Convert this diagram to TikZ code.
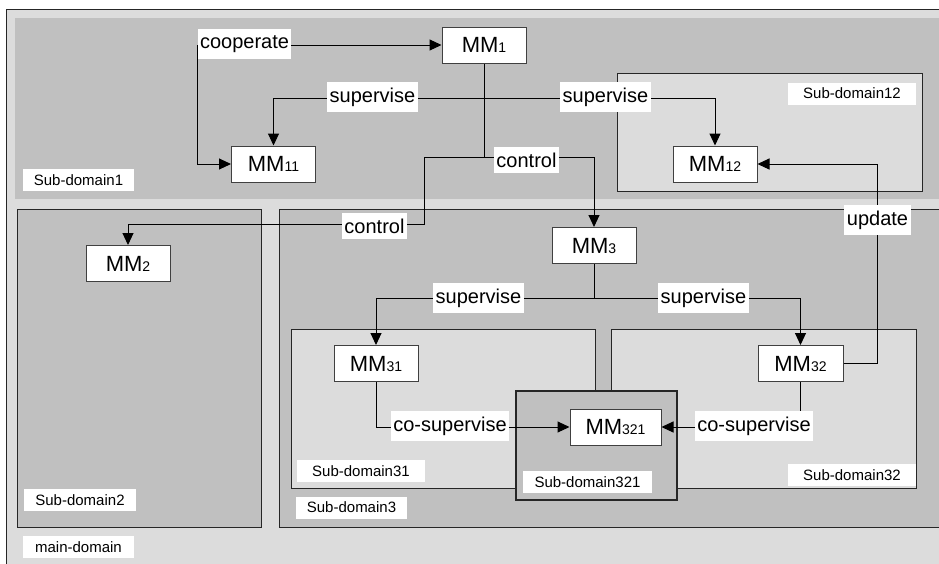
\documentclass[tikz,border=0pt]{standalone}
\usepackage{fontspec}
\setmainfont{Liberation Sans}
\usetikzlibrary{arrows.meta}
\definecolor{dompale}{HTML}{DCDCDC}
\definecolor{domdark}{HTML}{C0C0C0}
\tikzset{
  >={Triangle[length=12pt,width=11pt]},
  mm/.style={draw=black!75, line width=1pt, fill=white, minimum width=84pt,
    minimum height=36pt, inner sep=0pt, font=\fontsize{22}{24}\selectfont},
  rel/.style={fill=white, inner xsep=2.5pt, inner ysep=6pt,
    font=\fontsize{20}{24}\selectfont},
  domtag/.style={fill=white, inner sep=0pt, minimum height=22pt,
    font=\fontsize{15}{18}\selectfont},
  paledom/.style={fill=dompale, draw=black!85, line width=1pt},
  darkdom/.style={fill=domdark, draw=black!85, line width=1pt},
  link/.style={line width=1pt, ->},
}
\newcommand{\mmsub}[1]{{\fontsize{14}{14}\selectfont #1}}

\begin{document}
\begin{tikzpicture}[x=1pt,y=-1pt]
\useasboundingbox (0,0) rectangle (939,563);
\fill[white] (0,0) rectangle (939,563);
\clip (0,0) rectangle (939,563);

% nested domains
\filldraw[paledom] (6,9) rectangle (980,600);
\fill[domdark] (15,18) rectangle (980,199);
\filldraw[paledom] (617,73) rectangle (922,191);
\filldraw[darkdom] (17,209) rectangle (261,527);
\filldraw[darkdom] (279,209) rectangle (980,527);
\filldraw[paledom] (291,329) rectangle (595,488);
\filldraw[paledom] (611,329) rectangle (916,488);
\filldraw[darkdom, line width=1.8pt] (516,391) rectangle (677,500);

% domain names
\node[domtag, minimum width=111pt] (tmain) at (78.5,547) {main-domain};
\node[domtag, minimum width=111pt] (tsd1) at (78.5,180) {Sub-domain1};
\node[domtag, minimum width=128pt] (tsd12) at (852,93.5) {Sub-domain12};
\node[domtag, minimum width=112pt] (tsd2) at (80,500) {Sub-domain2};
\node[domtag, minimum width=111pt] (tsd3) at (351.5,507.5) {Sub-domain3};
\node[domtag, minimum width=128pt] (tsd31) at (361,471) {Sub-domain31};
\node[domtag, minimum width=129pt] (tsd321) at (587.5,482) {Sub-domain321};

% managers
\node[mm] (m1) at (484,45) {MM\mmsub{1}};
\node[mm] (m11) at (273.5,164) {MM\mmsub{11}};
\node[mm] (m12) at (715,164) {MM\mmsub{12}};
\node[mm] (m2) at (128,263.5) {MM\mmsub{2}};
\node[mm] (m3) at (594,245.5) {MM\mmsub{3}};
\node[mm] (m31) at (376,363.5) {MM\mmsub{31}};
\node[mm, minimum width=85pt] (m32) at (800.5,363.5) {MM\mmsub{32}};
\node[mm, minimum width=91pt] (m321) at (615.5,427) {MM\mmsub{321}};

% relations
\coordinate (coop) at (197,45);
\draw[link, <->] (m1.west) -- (m1.west -| coop) |- (m11.west);

\coordinate (sv1) at (484,98);
\draw[link] (m1.south) -- (sv1) -| (m11.north);
\draw[link] (sv1) -| (m12.north);

\coordinate (ct) at (484,157);
\coordinate (cbend) at (424,224);
\draw[link] (sv1) -- (ct) -| (m3.north);
\draw[link] (ct) -| (cbend) -| (m2.north);

\coordinate (sv3) at (594,298);
\draw[link] (m3.south) -- (sv3) -| (m31.north);
\draw[link] (sv3) -| (m32.north);

\coordinate (upd) at (877,220);
\draw[link] (m32.east) -| (upd) |- (m12.east);

\draw[link] (m31.south) |- (m321.west);
\draw[link] (m32.south) |- (m321.east);

% relation names
\node[rel] (lcoop) at (244.5,44) {cooperate};
\node[rel] (lsup1) at (372.5,97) {supervise};
\node[rel] (lsup2) at (605.5,97) {supervise};
\node[rel] (lctl1) at (526.5,160) {control};
\node[rel] (lctl2) at (374.5,226) {control};
\node[rel] (lsup3) at (478.5,298) {supervise};
\node[rel] (lsup4) at (703.5,298) {supervise};
\node[rel] (lupd) at (877.5,220) {update};
\node[rel] (lcs1) at (450,426) {co-supervise};
\node[rel] (lcs2) at (754,426) {co-supervise};

% drawn last: it sits over the border of its own domain
\node[domtag, minimum width=128pt] (tsd32) at (852,475) {Sub-domain32};
\end{tikzpicture}
\end{document}
